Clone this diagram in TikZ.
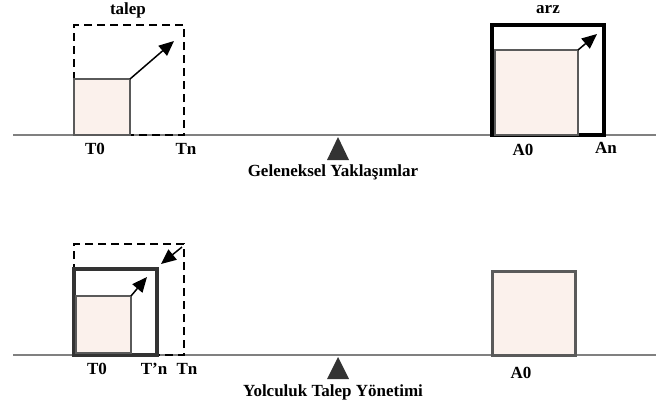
\documentclass[tikz,border=0pt]{standalone}
\usepackage{fontspec}
\setmainfont{Liberation Serif}
\usetikzlibrary{arrows.meta}
\definecolor{pinkfill}{HTML}{FBF1EC}
\definecolor{boxgray}{HTML}{5A5A5A}
\definecolor{axisgray}{HTML}{808080}
\definecolor{darktri}{HTML}{333333}
\tikzset{
  lbl/.style={font=\bfseries\fontsize{17}{19}\selectfont, inner sep=0pt},
  axisline/.style={draw=axisgray, line width=1.5pt},
  pinkbox/.style={draw=boxgray, fill=pinkfill, line width=2.4pt, inner sep=0pt, outer sep=0pt, anchor=south west},
  thickbox/.style={draw=black, line width=3.6pt, inner sep=0pt, outer sep=0pt, anchor=south west},
  dashbox/.style={draw=black, line width=2.8pt, dash pattern=on 8pt off 5pt, inner sep=0pt, outer sep=0pt, anchor=south west},
  growarrow/.style={draw=black, line width=1.5pt, -{Triangle[length=15pt,width=13pt]}},
  tri/.style={fill=darktri}
}
\begin{document}
\begin{tikzpicture}[x=1pt,y=-1pt]
\useasboundingbox (0,0) rectangle (656,410);
% ---------- top panel ----------
\coordinate (axA) at (13,135);
\coordinate (axB) at (656,135);
\draw[axisline] (axA) -- (axB);
\node[dashbox, minimum width=110pt, minimum height=110pt] (tn) at (74,135) {};
\node[pinkbox, minimum width=56pt, minimum height=56pt] (t0) at (74,135) {};
\coordinate (tarrow) at (174,41);
\draw[growarrow] (t0.north east) -- (tarrow);
\node[lbl] (talep) at (128,10) {talep};
\node[lbl] (T0a) at (95,149) {T0};
\node[lbl] (Tna) at (186,149) {Tn};

\node[thickbox, minimum width=112pt, minimum height=110pt] (an) at (492,135) {};
\node[pinkbox, minimum width=83pt, minimum height=85pt] (a0) at (495,135) {};
\coordinate (aarrow) at (597,34);
\draw[growarrow] (a0.north east) -- (aarrow);
\node[lbl] (arz) at (548,10) {arz};
\node[lbl] (A0a) at (523,150) {A0};
\node[lbl] (Ana) at (606,148) {An};

\fill[tri] (338,137) -- (349,160) -- (327,160) -- cycle;
\node[lbl] (title1) at (333,172) {Geleneksel Yaklaşımlar};

% ---------- bottom panel ----------
\coordinate (bxA) at (13,355);
\coordinate (bxB) at (656,355);
\draw[axisline] (bxA) -- (bxB);
\node[dashbox, minimum width=110pt, minimum height=111pt] (btn) at (74,355) {};
\node[thickbox, draw=darktri, minimum width=83pt, minimum height=86pt] (btpn) at (74,355) {};
\node[pinkbox, minimum width=55pt, minimum height=57pt] (bt0) at (76,353) {};
\coordinate (barrow) at (147,277);
\draw[growarrow] (bt0.north east) -- (barrow);
\coordinate (sstart) at (182,247);
\coordinate (send) at (161,264);
\draw[growarrow] (sstart) -- (send);
\node[lbl] (T0b) at (97,369) {T0};
\node[lbl] (Tpnb) at (154,369) {T’n};
\node[lbl] (Tnb) at (187,369) {Tn};

\node[pinkbox, line width=3pt, minimum width=83pt, minimum height=84pt] (ba0) at (492,355) {};
\node[lbl] (A0b) at (521,373) {A0};

\fill[tri] (338,357) -- (349,379) -- (327,379) -- cycle;
\node[lbl] (title2) at (333,392) {Yolculuk Talep Yönetimi};
\end{tikzpicture}
\end{document}
